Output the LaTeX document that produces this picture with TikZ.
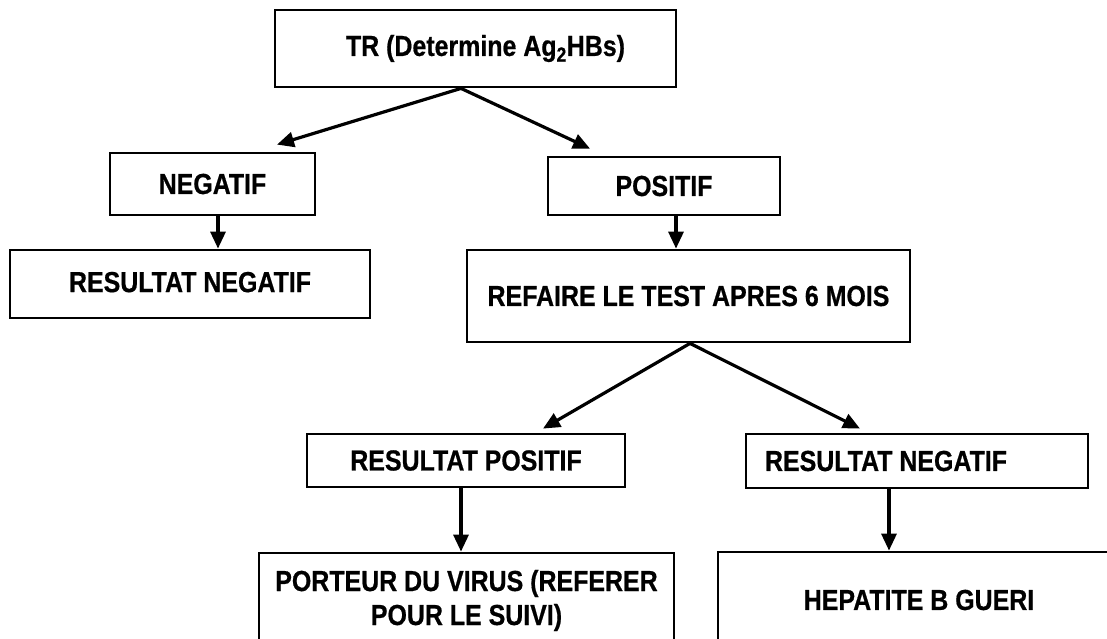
\documentclass[tikz,border=0pt]{standalone}
\usepackage{fontspec}
\setmainfont{Liberation Sans}[FakeStretch=0.86, FakeBold=0.6]
\usetikzlibrary{arrows.meta}

\tikzset{
  flowbox/.style={draw, line width=2.8pt, rectangle, inner sep=0pt,
    font=\fontsize{29}{34}\selectfont\bfseries, align=center},
  flowarrow/.style={line width=3.2pt, -{Triangle[length=17pt,width=15pt]}}
}

\begin{document}
\begin{tikzpicture}[x=1pt, y=-1pt]
  \useasboundingbox (0,0) rectangle (1107,639);
  \clip (0,0) rectangle (1107,639);

  % boxes
  \node[flowbox, minimum width=401pt, minimum height=77pt] (top) at (475.5,48.5)
    {\hspace*{20pt}TR (Determine Ag\textsubscript{2}HBs)};
  \node[flowbox, minimum width=205pt, minimum height=62pt] (neg) at (212.5,184) {NEGATIF};
  \node[flowbox, minimum width=360pt, minimum height=68pt] (rneg) at (190,284)
    {\raisebox{4pt}{RESULTAT NEGATIF}};
  \node[flowbox, minimum width=232pt, minimum height=58pt] (pos) at (664,186) {POSITIF};
  \node[flowbox, minimum width=443pt, minimum height=92pt] (redo) at (688.5,296)
    {REFAIRE LE TEST APRES 6 MOIS};
  \node[flowbox, minimum width=318pt, minimum height=53pt] (rpos) at (466,460.5) {RESULTAT POSITIF};
  \node[flowbox, minimum width=342pt, minimum height=54pt] (rneg2) at (917,461)
    {RESULTAT NEGATIF\hspace*{62pt}};
  \node[flowbox, minimum width=415pt, minimum height=95pt] (carrier) at (466.5,600.5)
    {PORTEUR DU VIRUS (REFERER\\POUR LE SUIVI)};
  \node[flowbox, minimum width=402pt, minimum height=96pt] (cured) at (919,600)
    {HEPATITE B GUERI};

  % connectors
  \draw[flowarrow] ([xshift=-14.5pt]top.south) -- ([xshift=64.5pt,yshift=7pt]neg.north);
  \draw[flowarrow] ([xshift=-14.5pt]top.south) -- ([xshift=-74pt,yshift=7pt]pos.north);
  \draw[flowarrow] ([xshift=5.5pt]neg.south) -- ([xshift=28pt]rneg.north);
  \draw[flowarrow] ([xshift=12pt]pos.south) -- ([xshift=-12.5pt]redo.north);
  \draw[flowarrow] ([xshift=1.5pt]redo.south) -- ([xshift=77pt,yshift=4pt]rpos.north);
  \draw[flowarrow] ([xshift=1.5pt]redo.south) -- ([xshift=-57pt,yshift=4pt]rneg2.north);
  \draw[flowarrow] ([xshift=-5pt]rpos.south) -- ([xshift=-5.5pt]carrier.north);
  \draw[flowarrow] ([xshift=-28pt]rneg2.south) -- ([xshift=-30pt]cured.north);
\end{tikzpicture}
\end{document}
